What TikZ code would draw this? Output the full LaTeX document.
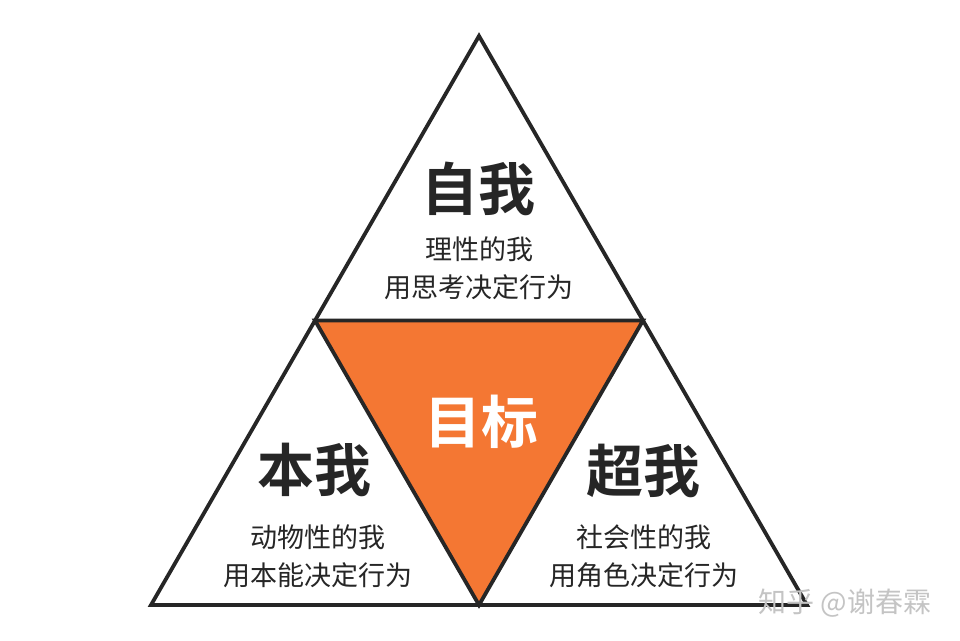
\documentclass[tikz,border=0pt]{standalone}
\usepackage{fontspec}
\usetikzlibrary{calc}
\newfontfamily\cjk{Noto Sans CJK SC}
\newfontfamily\cjkb{Noto Sans CJK SC Bold}
\definecolor{lineC}{HTML}{262626}
\definecolor{orangeC}{HTML}{F47733}
\definecolor{wmC}{HTML}{C4C4C4}
\begin{document}
\begin{tikzpicture}[x=1pt,y=-1pt,
  title/.style={font=\cjkb\fontsize{57}{60}\selectfont, text=lineC, inner sep=0pt},
  sub/.style={font=\cjk\fontsize{27}{38}\selectfont, text=lineC, align=center, inner sep=0pt},
  edge/.style={draw=lineC, line width=3.8pt, line join=miter}]
\useasboundingbox (0,0) rectangle (960,640);
\fill[white] (0,0) rectangle (960,640);
\coordinate (A) at (479,36);
\coordinate (B) at (151,605);
\coordinate (C) at (807,605);
\coordinate (L) at ($(A)!0.5!(B)$);
\coordinate (R) at ($(A)!0.5!(C)$);
\coordinate (M) at ($(B)!0.5!(C)$);
\fill[orangeC] (L) -- (R) -- (M) -- cycle;
\draw[edge] (A) -- (B) -- (C) -- cycle;
\draw[edge] (L) -- (R) -- (M) -- cycle;
\node[title] (ziwo) at (478,189) {自我};
\node[sub] (ziwoT) at (479,268) {理性的我\\用思考决定行为};
\node[title, text=white] (mubiao) at (481,422) {目标};
\node[title] (benwo) at (314,470) {本我};
\node[sub] (benwoT) at (318,556) {动物性的我\\用本能决定行为};
\node[title] (chaowo) at (643,471) {超我};
\node[sub] (chaowoT) at (644,556) {社会性的我\\用角色决定行为};
\node[font=\cjk\fontsize{28}{30}\selectfont, text=wmC, inner sep=0pt] (wm) at (845,603) {知乎 @谢春霖};
\end{tikzpicture}
\end{document}
